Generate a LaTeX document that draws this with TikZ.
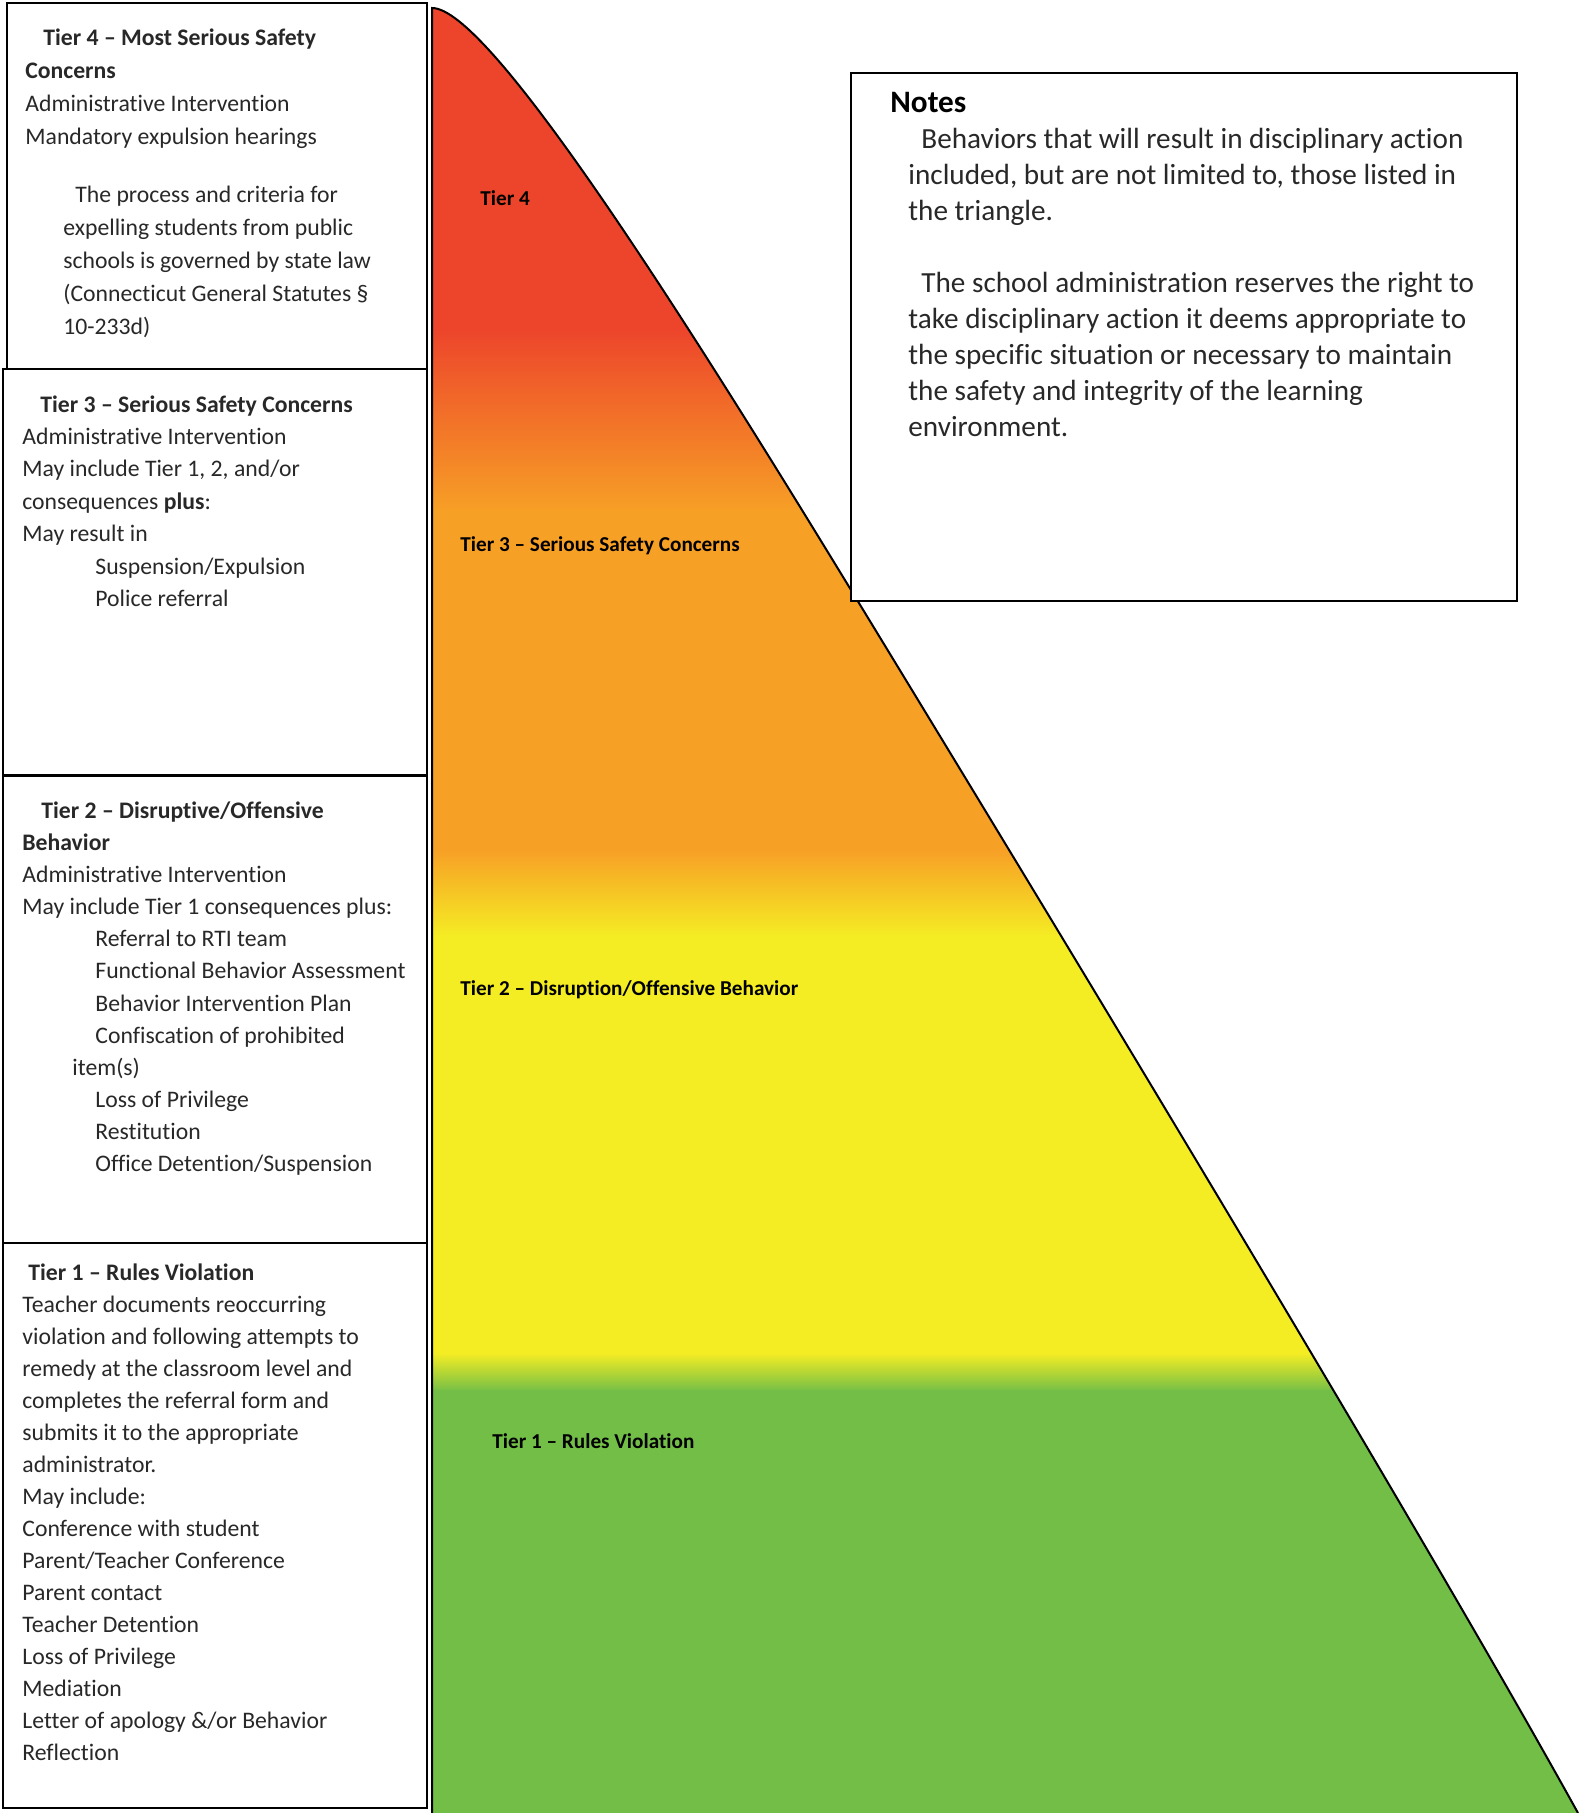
\documentclass[tikz,border=0pt]{standalone}
\usepackage{fontspec}
\setmainfont{Carlito}[Ligatures={TeX,NoCommon}]
\usetikzlibrary{positioning}
\definecolor{tierred}{RGB}{237,69,43}
\definecolor{tierorange}{RGB}{247,160,38}
\definecolor{tieryellow}{RGB}{245,237,36}
\definecolor{tiergreen}{RGB}{114,190,71}
\definecolor{inkgray}{RGB}{40,40,40}
\tikzset{tierbox/.style = {draw=black,line width=1.2pt,fill=white}}
\tikzset{boxtext/.style = {anchor=north west,inner sep=0pt,align=left,text=inkgray,font=\fontsize{11.85}{#1}\selectfont}}
\tikzset{notetext/.style = {anchor=north west,inner sep=0pt,align=left,text=inkgray,font=\fontsize{14.6}{18}\selectfont}}
\tikzset{tierlabel/.style = {anchor=base west,inner sep=0pt,font=\bfseries\fontsize{10.6}{12}\selectfont}}

\begin{document}
\begin{tikzpicture}[x=0.5pt,y=-0.5pt]
		\useasboundingbox (0,0) rectangle (1579,1813);
		% the coloured triangle
		\begin{scope}
			\clip (432,1813) -- (432,8) .. controls (487,8) and (668,290) .. (851,590) .. controls (1034,890) and (1412,1513) .. (1578,1813) -- cycle;
			\fill[tierred] (432,0) rectangle (1579,332);
			\shade[top color=tierred, bottom color=tierorange] (432,330) rectangle (1579,512);
			\fill[tierorange] (432,510) rectangle (1579,852);
			\shade[top color=tierorange, bottom color=tieryellow] (432,850) rectangle (1579,937);
			\fill[tieryellow] (432,935) rectangle (1579,1355);
			\shade[top color=tieryellow, bottom color=tiergreen] (432,1353) rectangle (1579,1392);
			\fill[tiergreen] (432,1390) rectangle (1579,1813);
		\end{scope}
		\draw[line width=1pt] (432,1813) -- (432,8) .. controls (487,8) and (668,290) .. (851,590) .. controls (1034,890) and (1412,1513) .. (1578,1813);
		\node[tierlabel] (lfour) at (480,206) {Tier 4};
		\node[tierlabel] (lthree) at (460,551) {Tier 3 – Serious Safety Concerns};
		\node[tierlabel] (ltwo) at (460,995) {Tier 2 – Disruption/Offensive Behavior};
		\node[tierlabel] (lone) at (492,1448) {Tier 1 – Rules Violation};
		% left boxes
		\draw[tierbox] (7,3) rectangle (427,369);
		\draw[tierbox] (3,369) rectangle (427,775);
		\draw[tierbox] (3,776) rectangle (427,1243);
		\draw[tierbox] (3,1243) rectangle (427,1808);
		\node[boxtext=16.55] (tfour) at (25,28) {\hspace*{9pt}\textbf{Tier 4 – Most Serious Safety}\\
			\textbf{Concerns}\\
			Administrative Intervention\\
			Mandatory expulsion hearings\\[12.3pt]
			\hspace*{25pt}The process and criteria for\\
			\hspace*{19pt}expelling students from public\\
			\hspace*{19pt}schools is governed by state law\\
			\hspace*{19pt}(Connecticut General Statutes §\\
			\hspace*{19pt}10-233d)};
		\node[boxtext=16.2] (tthree) at (22,395) {\hspace*{9pt}\textbf{Tier 3 – Serious Safety Concerns}\\
			Administrative Intervention\\
			May include Tier 1, 2, and/or\\
			consequences \textbf{plus}:\\
			May result in\\
			\hspace*{36.5pt}Suspension/Expulsion\\
			\hspace*{36.5pt}Police referral};
		\node[boxtext=16.08] (ttwo) at (22,801) {\hspace*{9.5pt}\textbf{Tier 2 – Disruptive/Offensive}\\
			\textbf{Behavior}\\
			Administrative Intervention\\
			May include Tier 1 consequences plus:\\
			\hspace*{36.5pt}Referral to RTI team\\
			\hspace*{36.5pt}Functional Behavior Assessment\\
			\hspace*{36.5pt}Behavior Intervention Plan\\
			\hspace*{36.5pt}Confiscation of prohibited\\
			\hspace*{25pt}item(s)\\
			\hspace*{36.5pt}Loss of Privilege\\
			\hspace*{36.5pt}Restitution\\
			\hspace*{36.5pt}Office Detention/Suspension};
		\node[boxtext=16] (tone) at (22,1263) {\hspace*{3pt}\textbf{Tier 1 – Rules Violation}\\
			Teacher documents reoccurring\\
			violation and following attempts to\\
			remedy at the classroom level and\\
			completes the referral form and\\
			submits it to the appropriate\\
			administrator.\\
			May include:\\
			Conference with student\\
			Parent/Teacher Conference\\
			Parent contact\\
			Teacher Detention\\
			Loss of Privilege\\
			Mediation\\
			Letter of apology \&/or Behavior\\
			Reflection};
		% notes
		\draw[tierbox] (851,73) rectangle (1517,601);
		\node[anchor=north west,inner sep=0pt,font=\bfseries\fontsize{15.6}{18}\selectfont] (notes) at (890,92) {Notes};
		\node[notetext] (notebody) at (908,128) {\hspace*{6.5pt}Behaviors that will result in disciplinary action\\
			included, but are not limited to, those listed in\\
			the triangle.\\[18pt]
			\hspace*{6.5pt}The school administration reserves the right to\\
			take disciplinary action it deems appropriate to\\
			the specific situation or necessary to maintain\\
			the safety and integrity of the learning\\
			environment.};
	\end{tikzpicture}
\end{document}
